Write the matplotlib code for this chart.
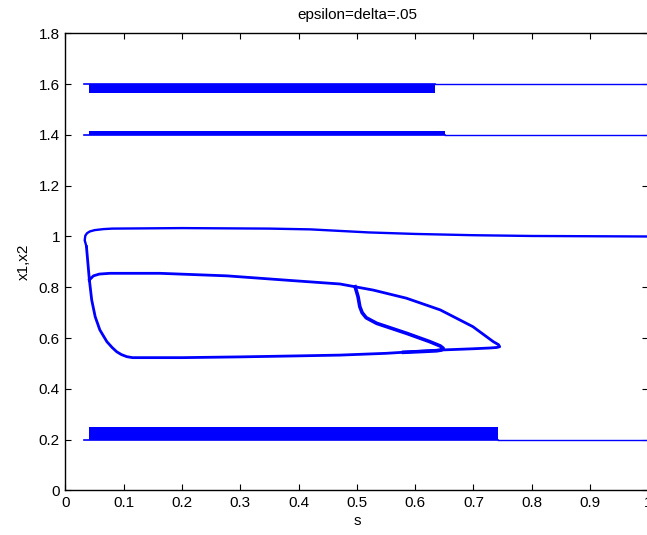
import numpy as np
import matplotlib
matplotlib.use('Agg')
import matplotlib.pyplot as plt

plt.rcParams['font.family'] = ['Liberation Sans', 'DejaVu Sans']

# oscillating bands: s range, lower / upper edge, steady value afterwards
band_s0 = [0.040, 0.040, 0.040]
band_s1 = [0.634, 0.651, 0.742]
band_lo = [1.566, 1.400, 0.200]
band_hi = [1.600, 1.417, 0.250]
band_line = [1.600, 1.400, 0.200]
band_start = [0.032, 0.032, 0.032]

# upper curve (x near 1)
top_s = [0.036, 0.033, 0.034, 0.037, 0.042, 0.05, 0.065, 0.08, 0.2, 0.35, 0.42, 0.47,
         0.52, 0.6, 0.7, 0.8, 1.0]
top_x = [0.96, 0.985, 1.003, 1.013, 1.020, 1.025, 1.029, 1.031, 1.033, 1.031, 1.028, 1.022,
         1.016, 1.01, 1.005, 1.002, 1.0]

# big loop: left descent, bottom, tip, back along the upper edge
loop_s = [0.036, 0.041, 0.045, 0.051, 0.059, 0.071, 0.080, 0.088, 0.096, 0.105, 0.115,
          0.2, 0.3, 0.4, 0.471, 0.55, 0.643, 0.70, 0.728, 0.740, 0.745, 0.743, 0.734,
          0.699, 0.643, 0.585, 0.528, 0.497, 0.471, 0.391, 0.277, 0.162, 0.076, 0.058,
          0.048, 0.041]
loop_x = [0.96, 0.829, 0.75, 0.684, 0.632, 0.586, 0.563, 0.546, 0.535, 0.527, 0.523,
          0.523, 0.526, 0.530, 0.533, 0.540, 0.553, 0.558, 0.561, 0.563, 0.566, 0.574, 0.586,
          0.645, 0.711, 0.757, 0.789, 0.802, 0.813, 0.826, 0.845, 0.855, 0.855, 0.852,
          0.845, 0.829]

# inner branch dropping at s~0.5
inner_s = [0.497, 0.502, 0.505, 0.509, 0.516, 0.534, 0.585, 0.625, 0.643, 0.648, 0.645, 0.637, 0.61, 0.58]
inner_x = [0.802, 0.763, 0.724, 0.700, 0.680, 0.658, 0.619, 0.586, 0.569, 0.560, 0.553, 0.550, 0.547, 0.544]

x_ticks = [0, 0.1, 0.2, 0.3, 0.4, 0.5, 0.6, 0.7, 0.8, 0.9, 1]
x_labels = ['0', '0.1', '0.2', '0.3', '0.4', '0.5', '0.6', '0.7', '0.8', '0.9', '1']
y_ticks = [0, 0.2, 0.4, 0.6, 0.8, 1, 1.2, 1.4, 1.6, 1.8]
y_labels = ['0', '0.2', '0.4', '0.6', '0.8', '1', '1.2', '1.4', '1.6', '1.8']

blue = '#0000ff'

fig = plt.figure(figsize=(6.47, 5.35), dpi=100)
ax = fig.add_axes([0.1012, 0.0832, 0.9008, 0.8546])

for i in range(3):
    ax.fill_between([band_s0[i], band_s1[i]], band_lo[i], band_hi[i], color=blue, lw=0)
    ax.plot([band_start[i], band_s1[i]], [band_line[i], band_line[i]], color=blue, lw=1.2)
    ax.plot([band_s1[i], 1.0], [band_line[i], band_line[i]], color=blue, lw=1.0)

ax.plot(top_s, top_x, color=blue, lw=1.7, solid_joinstyle='round')
ax.plot(loop_s, loop_x, color=blue, lw=2.0, solid_joinstyle='round')
ax.plot(inner_s, inner_x, color=blue, lw=2.6, solid_joinstyle='round')

ax.set_xlim(0, 1)
ax.set_ylim(0, 1.8)
ax.set_xticks(x_ticks)
ax.set_xticklabels(x_labels)
ax.set_yticks(y_ticks)
ax.set_yticklabels(y_labels)
ax.tick_params(direction='in', length=4, width=0.8, labelsize=11,
               top=True, right=True, pad=4)
for sp in ax.spines.values():
    sp.set_linewidth(1.0)

ax.set_title('epsilon=delta=.05', fontsize=11, pad=10)
ax.set_xlabel('s', fontsize=11, labelpad=3)
ax.set_ylabel('x1,x2', fontsize=11, labelpad=6)

fig.savefig('out.png', dpi=100)
